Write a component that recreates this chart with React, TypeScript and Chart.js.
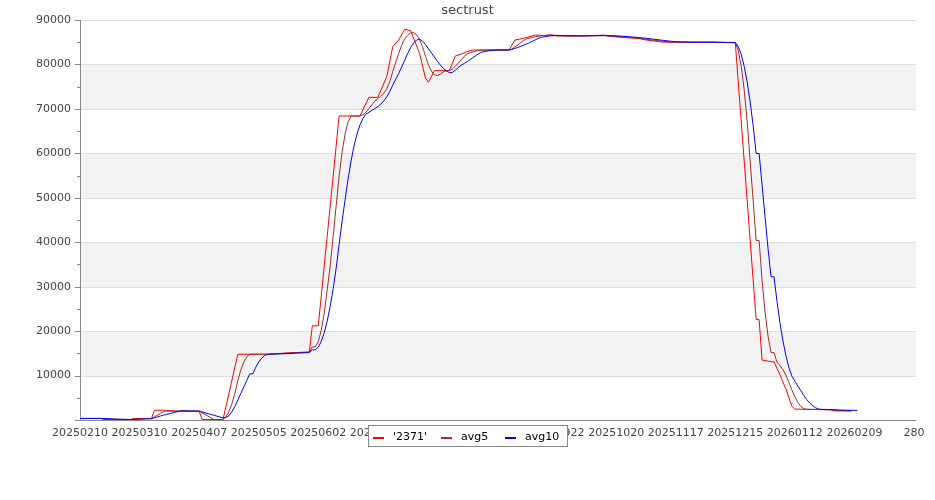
import React, { useEffect, useRef } from 'react';
import { Chart, registerables } from 'chart.js';

Chart.register(...registerables);

const TITLE = 'sectrust';
const SERIES_NAMES = ["'2371'", 'avg5', 'avg10'];
const SERIES_COLORS = ['#ff0000', '#a52a2a', '#0000ff'];
const X_TICK_LABELS = [
  '20250210', '20250310', '20250407', '20250505', '20250602', '20250630', '20250728',
  '20250825', '20250922', '20251020', '20251117', '20251215', '20260112', '20260209', '280',
];
const X_MAX = 280;
const X_STEP = 20;
const Y_MAX = 90000;
const Y_STEP = 10000;

// [day index, value]
const RAW_2371: [number, number][] = [
  [0, 350], [7, 350], [8, 100], [17, 100], [18, 350], [24, 350], [25, 2200], [28, 2200], [29, 2000], [40, 2000],
  [41, 100], [48, 100], [53, 14800], [63, 14800], [70, 15100], [77, 15300], [78, 21200], [80, 21200], [87, 68400], [94, 68400],
  [97, 72600], [100, 72600], [103, 77300], [105, 84000], [107, 85500], [109, 87900], [111, 87600], [114, 82500], [116, 76900], [117, 76000],
  [119, 78600], [124, 78600], [126, 81900], [128, 82350], [130, 82900], [132, 83250], [144, 83250], [146, 85500], [149, 85900], [153, 86600],
  [156, 86500], [158, 86700], [160, 86400], [168, 86400], [176, 86600], [178, 86300], [184, 86000], [188, 85800], [190, 85500], [196, 85000],
  [212, 85000], [220, 84900], [227, 22600], [228, 22600], [229, 13500], [232, 13100], [233, 13100], [234, 11600], [235, 10200], [236, 8500],
  [237, 7000], [238, 5000], [239, 3100], [240, 2450], [252, 2300], [253, 2050], [259, 2050],
];

const AVG5: [number, number][] = [
  [0, 350], [7, 350], [12, 100], [17, 100], [22, 350], [24, 350], [25, 720], [26, 1090], [27, 1460], [28, 1830],
  [29, 2160], [33, 2000], [40, 2000], [45, 100], [48, 100], [49, 688], [50, 1864], [51, 3628], [52, 5980], [53, 8920],
  [54, 11272], [55, 13036], [56, 14212], [57, 14800], [63, 14800], [70, 15057], [77, 15271], [78, 16446], [79, 16446], [80, 17643],
  [81, 20183], [82, 24066], [83, 29292], [84, 34686], [85, 41429], [86, 48171], [87, 54914], [88, 60308], [89, 64354], [90, 67051],
  [91, 68400], [94, 68400], [95, 68680], [96, 69240], [97, 70080], [98, 70920], [99, 71760], [100, 72320], [101, 72913], [102, 73540],
  [103, 74480], [104, 76090], [105, 78370], [106, 80487], [107, 82440], [108, 84320], [109, 85770], [110, 86520], [111, 87090], [112, 87170],
  [113, 86670], [114, 85590], [115, 83980], [116, 81840], [117, 79860], [118, 78480], [119, 77700], [120, 77480], [121, 77820], [122, 78340],
  [123, 78600], [124, 78600], [125, 78930], [126, 79590], [127, 80295], [128, 81045], [129, 81850], [130, 82380], [131, 82615], [132, 82840],
  [133, 83020], [134, 83145], [135, 83215], [136, 83250], [144, 83250], [145, 83475], [146, 83925], [147, 84402], [148, 84905], [149, 85435],
  [150, 85775], [151, 85925], [152, 86083], [153, 86250], [155, 86480], [158, 86580], [160, 86550], [163, 86450], [168, 86400], [176, 86500],
  [180, 86300], [186, 86000], [192, 85500], [198, 85050], [212, 85000], [220, 84900], [221, 83120], [222, 79560], [223, 74220], [224, 67100],
  [225, 58200], [226, 49300], [227, 40400], [228, 40400], [229, 31460], [230, 24280], [231, 18850], [232, 15170], [233, 15170], [234, 12970],
  [235, 12310], [236, 11330], [237, 10080], [238, 8460], [239, 6760], [240, 5210], [241, 3990], [242, 3070], [243, 2550], [244, 2410],
  [252, 2300], [257, 2050], [259, 2050],
];

const AVG10: [number, number][] = [
  [0, 350], [7, 350], [17, 100], [24, 275], [25, 485], [26, 695], [27, 905], [28, 1090], [29, 1255], [30, 1420],
  [31, 1585], [32, 1750], [33, 1915], [34, 2080], [37, 2020], [38, 2000], [40, 2000], [48, 480], [49, 584], [50, 982],
  [51, 1864], [52, 3040], [53, 4510], [54, 5980], [55, 7450], [56, 8920], [57, 10390], [58, 10390], [59, 11860], [60, 13036],
  [61, 13918], [62, 14506], [63, 14800], [68, 14886], [73, 15057], [77, 15171], [78, 15786], [79, 15786], [80, 16400], [81, 17684],
  [82, 19640], [83, 22267], [84, 25566], [85, 29536], [86, 34177], [87, 39490], [88, 44800], [89, 49520], [90, 54240], [91, 58286],
  [92, 61657], [93, 64354], [94, 66377], [95, 67866], [96, 68820], [97, 69240], [98, 69660], [99, 70080], [100, 70500], [101, 71077],
  [102, 71810], [103, 72700], [104, 73925], [105, 75345], [106, 76700], [107, 77990], [108, 79400], [109, 80930], [110, 82445], [111, 83788],
  [112, 84805], [113, 85495], [114, 85680], [115, 85250], [116, 84465], [117, 83515], [118, 82575], [119, 81645], [120, 80730], [121, 79830],
  [122, 79100], [123, 78540], [124, 78150], [125, 78205], [126, 78705], [127, 79318], [128, 79823], [129, 80225], [130, 80655], [131, 81103],
  [132, 81568], [133, 82033], [134, 82498], [135, 82798], [136, 82933], [137, 83045], [138, 83135], [139, 83198], [140, 83233], [141, 83250],
  [144, 83250], [145, 83363], [146, 83588], [147, 83826], [148, 84078], [149, 84343], [150, 84625], [151, 84925], [152, 85243], [153, 85578],
  [154, 85910], [155, 86125], [156, 86225], [157, 86322], [158, 86415], [160, 86513], [168, 86430], [176, 86480], [180, 86450], [185, 86200],
  [190, 85900], [196, 85400], [200, 85100], [205, 85000], [212, 85000], [220, 84950], [221, 84010], [222, 82230], [223, 79560], [224, 76000],
  [225, 71550], [226, 66210], [227, 59980], [228, 59980], [229, 52840], [230, 45690], [231, 38525], [232, 32235], [233, 32235], [234, 26685],
  [235, 21885], [236, 17805], [237, 14465], [238, 11815], [239, 9865], [240, 8760], [241, 7660], [242, 6575], [243, 5505], [244, 4585],
  [245, 3805], [246, 3194], [247, 2732], [248, 2469], [249, 2396], [252, 2350], [255, 2250], [261, 2150],
];

const SERIES = [RAW_2371, AVG5, AVG10];
const FONT = '"DejaVu Sans", "Liberation Sans", sans-serif';

const decorPlugin = {
  id: 'decor',
  beforeDatasetsDraw(chart: any) {
    const { ctx, chartArea: a, scales } = chart;
    const ys = scales.y;
    const left = Math.round(a.left);
    const right = Math.round(a.right) + 2;
    const bottom = Math.round(a.bottom);
    ctx.save();
    // alternating bands
    ctx.fillStyle = '#f2f2f2';
    for (let v = Y_STEP; v < Y_MAX; v += 2 * Y_STEP) {
      const yTop = Math.round(ys.getPixelForValue(v + Y_STEP));
      const yBot = Math.round(ys.getPixelForValue(v));
      ctx.fillRect(left, yTop, right - left, yBot - yTop);
    }
    // horizontal grid lines
    ctx.lineWidth = 1;
    ctx.strokeStyle = '#dddddd';
    ctx.beginPath();
    for (let v = Y_STEP; v <= Y_MAX; v += Y_STEP) {
      const yy = Math.round(ys.getPixelForValue(v)) + 0.5;
      ctx.moveTo(left, yy);
      ctx.lineTo(right, yy);
    }
    ctx.stroke();
    // axes
    ctx.strokeStyle = '#888888';
    ctx.beginPath();
    ctx.moveTo(left + 0.5, Math.round(a.top));
    ctx.lineTo(left + 0.5, bottom + 1);
    ctx.moveTo(left, bottom + 0.5);
    ctx.lineTo(right, bottom + 0.5);
    for (let v = 0; v <= Y_MAX; v += Y_STEP / 2) {
      const yy = Math.round(ys.getPixelForValue(v)) + 0.5;
      const major = v % Y_STEP === 0;
      ctx.moveTo(left - (major ? 5 : 3), yy);
      ctx.lineTo(left, yy);
    }
    ctx.stroke();
    ctx.restore();
  },
  afterDraw(chart: any) {
    const { ctx, width } = chart;
    ctx.save();
    // title
    ctx.font = `13px ${FONT}`;
    ctx.fillStyle = '#444444';
    ctx.textAlign = 'center';
    ctx.textBaseline = 'alphabetic';
    ctx.fillText(TITLE, width / 2, 14);
    // legend
    const bx = 368, by = 425, bw = 199, bh = 21;
    ctx.fillStyle = '#ffffff';
    ctx.fillRect(bx, by, bw, bh);
    ctx.strokeStyle = '#888888';
    ctx.lineWidth = 1;
    ctx.strokeRect(bx + 0.5, by + 0.5, bw, bh);
    const sampleX = [373, 441, 505];
    ctx.font = `11px ${FONT}`;
    ctx.textAlign = 'left';
    SERIES_NAMES.forEach((name, i) => {
      ctx.fillStyle = SERIES_COLORS[i];
      ctx.fillRect(sampleX[i], 437, 11, 2);
      ctx.fillStyle = '#000000';
      ctx.fillText(name, sampleX[i] + 20, 440);
    });
    ctx.restore();
  },
};

export default function App() {
  const canvasRef = useRef<HTMLCanvasElement | null>(null);

  useEffect(() => {
    const canvas = canvasRef.current;
    if (!canvas) return;
    const chart = new Chart(canvas, {
      type: 'line',
      data: {
        datasets: SERIES.map((s, i) => ({
          label: SERIES_NAMES[i],
          data: s.map(([x, y]) => ({ x, y })),
          borderColor: SERIES_COLORS[i],
          backgroundColor: SERIES_COLORS[i],
          borderWidth: 1,
          pointRadius: 0,
          tension: 0,
          fill: false,
          order: 3 - i,
        })),
      },
      options: {
        responsive: false,
        animation: false,
        devicePixelRatio: 1,
        layout: { padding: { left: 0, right: 21, top: 20, bottom: 0 } },
        plugins: {
          legend: { display: false },
          title: { display: false },
          tooltip: { enabled: false },
        },
        scales: {
          x: {
            type: 'linear',
            min: 0,
            max: X_MAX,
            grid: { display: false, drawTicks: false },
            border: { display: false },
            ticks: {
              stepSize: X_STEP,
              autoSkip: false,
              maxRotation: 0,
              minRotation: 0,
              padding: 7,
              color: '#444444',
              font: { family: FONT, size: 11 },
              callback: (v: any) => X_TICK_LABELS[Math.round(Number(v) / X_STEP)] ?? '',
            },
            afterFit: (s: any) => { s.height = 80; },
          },
          y: {
            type: 'linear',
            min: 0,
            max: Y_MAX,
            grid: { display: false, drawTicks: false },
            border: { display: false },
            ticks: {
              stepSize: Y_STEP,
              autoSkip: false,
              padding: 9,
              color: '#444444',
              font: { family: FONT, size: 11 },
              callback: (v: any) => (Number(v) === 0 ? '' : String(v)),
            },
            afterFit: (s: any) => { s.width = 80; },
          },
        },
      } as any,
      plugins: [decorPlugin],
    });
    return () => chart.destroy();
  }, []);

  return (
    <div style={{ position: 'fixed', left: 0, top: 0, width: 935, height: 500, background: '#ffffff' }}>
      <canvas ref={canvasRef} width={935} height={500} style={{ width: 935, height: 500 }} />
    </div>
  );
}
